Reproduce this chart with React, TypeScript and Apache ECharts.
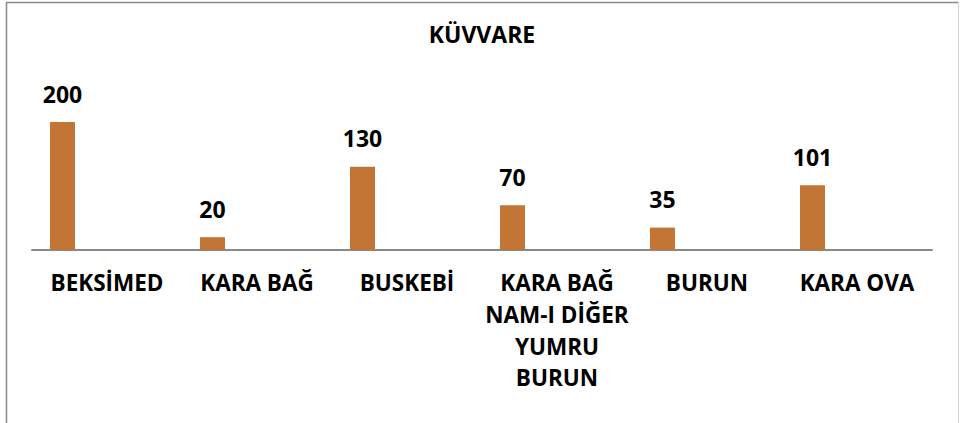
import React, { useEffect, useRef } from "react";
import * as echarts from "echarts";

const title = "KÜVVARE";
const categories = [
  "BEKSİMED",
  "KARA BAĞ",
  "BUSKEBİ",
  "KARA BAĞ\nNAM-I DİĞER\nYUMRU\nBURUN",
  "BURUN",
  "KARA OVA",
];
const values = [200, 20, 130, 70, 35, 101];

export default function App() {
  const ref = useRef<HTMLDivElement>(null);
  useEffect(() => {
    if (!ref.current) return;
    const chart = echarts.init(ref.current, null, { renderer: "svg" });
    const font = "'Open Sans', 'Noto Sans', sans-serif";
    chart.setOption({
      animation: false,
      backgroundColor: "#ffffff",
      title: {
        text: title,
        left: 477,
        textAlign: "center",
        top: 17,
        textStyle: { fontFamily: font, fontSize: 23, fontWeight: "bold", color: "#000" },
      },
      graphic: [
        { type: "line", shape: { x1: 6.5, y1: 2, x2: 6.5, y2: 423 }, style: { stroke: "#8a8a8a", lineWidth: 1.5 } },
        { type: "line", shape: { x1: 6, y1: 2.5, x2: 959, y2: 2.5 }, style: { stroke: "#8a8a8a", lineWidth: 1.5 } },
        { type: "line", shape: { x1: 958.5, y1: 2, x2: 958.5, y2: 423 }, style: { stroke: "#d6d6d6", lineWidth: 1 } },
      ],
      grid: { left: 32, right: 28, top: 122, bottom: 173, containLabel: false },
      xAxis: {
        type: "category",
        data: categories,
        axisLine: { show: true, lineStyle: { color: "#898989", width: 2 } },
        axisTick: { show: false },
        axisLabel: {
          interval: 0,
          margin: 17,
          fontFamily: font,
          fontSize: 22.5,
          fontWeight: "bold",
          color: "#000",
          lineHeight: 31.7,
          align: "center",
        },
      },
      yAxis: { type: "value", min: 0, max: 200, show: false, splitLine: { show: false } },
      series: [
        {
          type: "bar",
          data: values,
          barWidth: 25,
          barGap: "256%",
          itemStyle: { color: "#C27535" },
          label: {
            show: true,
            position: "top",
            distance: 17,
            fontFamily: font,
            fontSize: 23,
            fontWeight: "bold",
            color: "#000",
          },
        },
        {
          type: "bar",
          data: values.map(() => null),
          barWidth: 25,
          itemStyle: { color: "transparent" },
        },
      ],
    });
    return () => chart.dispose();
  }, []);
  return (
    <div
      ref={ref}
      style={{ position: "fixed", left: 0, top: 0, width: 960, height: 423, background: "#fff" }}
    />
  );
}
